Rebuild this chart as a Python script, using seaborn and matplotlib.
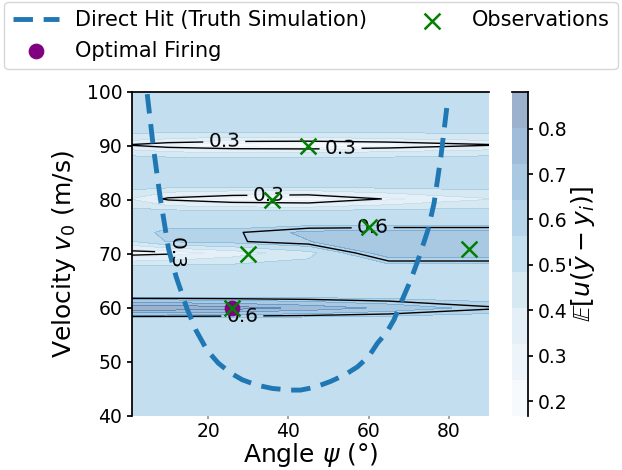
import numpy as np
import matplotlib
matplotlib.use("Agg")
import matplotlib.pyplot as plt
import seaborn as sns

# grid of expected utility (angle in degrees)
angle_cols = [1, 10, 26, 45, 65, 90]
v_rows = [40, 58, 60, 62.3, 67.5, 70.2, 72.3, 74, 75.8, 77.8, 80.2, 82.6, 87.5, 89, 90.2, 91.3, 93, 100]

u_psi01 = [0.52, 0.52, 0.881, 0.52, 0.52, 0.26, 0.48, 0.52, 0.52, 0.52, 0.40, 0.52, 0.52, 0.44, 0.29, 0.44, 0.52, 0.52]
u_psi10 = [0.52, 0.52, 0.87, 0.52, 0.52, 0.28, 0.57, 0.59, 0.52, 0.52, 0.28, 0.52, 0.52, 0.40, 0.24, 0.40, 0.52, 0.52]
u_psi26 = [0.52, 0.52, 0.84, 0.52, 0.52, 0.36, 0.59, 0.59, 0.52, 0.52, 0.22, 0.52, 0.52, 0.38, 0.19, 0.38, 0.52, 0.52]
u_psi45 = [0.52, 0.52, 0.78, 0.52, 0.52, 0.46, 0.64, 0.66, 0.52, 0.52, 0.20, 0.52, 0.52, 0.38, 0.167, 0.38, 0.52, 0.52]
u_psi65 = [0.52, 0.52, 0.70, 0.52, 0.52, 0.70, 0.72, 0.68, 0.52, 0.52, 0.31, 0.52, 0.52, 0.40, 0.21, 0.40, 0.52, 0.52]
u_psi90 = [0.52, 0.52, 0.61, 0.52, 0.52, 0.70, 0.72, 0.68, 0.52, 0.52, 0.40, 0.52, 0.52, 0.44, 0.29, 0.44, 0.52, 0.52]

# direct hit curve from the truth simulation
psi_hit = [4.8, 6.3, 8.0, 10.1, 12.0, 14.7, 17.0, 19.7, 22.5, 25.5, 28.5, 32.2, 36.0, 40.5,
           43.0, 46.5, 50.5, 54.0, 57.2, 60.0, 62.2, 64.5, 66.3, 68.0, 70.5, 72.6, 74.8, 76.3, 78.0, 79.7]
v_hit = [99.6, 89.9, 80.6, 71.0, 65.8, 59.9, 55.8, 52.2, 49.8, 48.0, 46.7, 45.7, 45.1, 44.8,
         44.8, 45.3, 46.4, 47.6, 49.1, 51.0, 53.5, 55.5, 57.8, 60.9, 65.2, 69.5, 74.5, 79.4, 88.0, 98.5]

# observations and chosen firing
obs_psi = [45, 36, 30, 60, 85, 26]
obs_v = [90, 80, 70, 75, 71, 60]
opt_psi = [26]
opt_v = [60]

sns.set_theme(style="ticks")
plt.rcParams['font.family'] = ['DejaVu Sans']
plt.rcParams.update({'text.color': 'black', 'axes.labelcolor': 'black',
                     'xtick.color': 'black', 'ytick.color': 'black', 'axes.edgecolor': 'black'})

fig = plt.figure(figsize=(6.22, 4.70), dpi=100)
ax = fig.add_axes([0.2122, 0.1149, 0.5740, 0.6894])
cax = fig.add_axes([0.8232, 0.1149, 0.0257, 0.6894])

Z = np.column_stack([u_psi01, u_psi10, u_psi26, u_psi45, u_psi65, u_psi90])
levels = np.linspace(0.167, 0.881, 10)
cf = ax.contourf(angle_cols, v_rows, Z, levels=levels, cmap='Blues', alpha=0.4)
cs = ax.contour(angle_cols, v_rows, Z, levels=[0.3, 0.6], colors='black', linewidths=1.0)
texts = ax.clabel(cs, fmt='%.1f', fontsize=14.5, inline=True,
                  manual=[(24, 90.9), (53, 89.4), (35, 80.3), (12, 70.2), (61, 74.6), (28.5, 58.5)])
for t in texts:
    if abs(t.get_position()[1] - 70.2) < 1.5 and t.get_position()[0] < 20:
        t.set_rotation(270)

hit_line, = ax.plot(psi_hit, v_hit, linestyle='--', color='#1f77b4', linewidth=3.5,
                    dashes=(4.0, 2.2), label='Direct Hit (Truth Simulation)')
sns.scatterplot(x=opt_psi, y=opt_v, color='purple', s=110, edgecolor='purple', ax=ax,
                label='Optimal Firing', zorder=5)
sns.scatterplot(x=obs_psi, y=obs_v, color='green', marker='x', s=130, linewidth=1.8, ax=ax,
                label='Observations', zorder=6)

ax.set_xlim(1, 90)
ax.set_ylim(40, 100)
ax.set_xticks([20, 40, 60, 80])
ax.set_yticks([40, 50, 60, 70, 80, 90, 100])
ax.tick_params(labelsize=13.5, length=3.5)
ax.tick_params(axis='x', color='0.6', length=2.5, pad=2)
ax.set_xlabel(r'Angle $\psi$ (°)', fontsize=18, labelpad=0)
ax.set_ylabel(r'Velocity $v_0$ (m/s)', fontsize=18, labelpad=6)
ax.spines['right'].set_visible(False)
ax.spines['bottom'].set_visible(False)

cbar = fig.colorbar(cf, cax=cax)
cbar.set_ticks([0.2, 0.3, 0.4, 0.5, 0.6, 0.7, 0.8])
cbar.ax.tick_params(labelsize=13.5, length=3.5)
cbar.set_label(r'$\mathbb{E}[u(\bar{y}-y_i)]$', fontsize=18, labelpad=2)
cbar.outline.set_visible(False)
cax.spines['right'].set_visible(True)
cax.spines['top'].set_visible(True)

handles, labels = ax.get_legend_handles_labels()
ax.get_legend().remove()
fig.legend(handles, labels, loc='upper center', bbox_to_anchor=(0.5, 1.0), ncol=2,
           fontsize=15, frameon=True, columnspacing=2.0, handlelength=2.2,
           borderaxespad=0.1)

fig.savefig('out.png', dpi=100)
